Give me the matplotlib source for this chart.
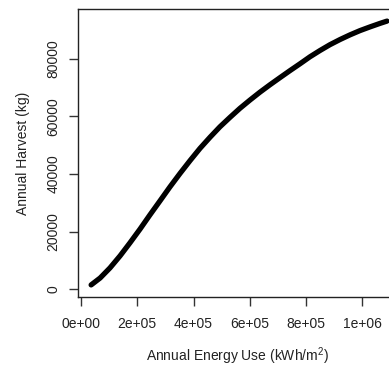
import matplotlib
matplotlib.use("Agg")
import matplotlib.pyplot as plt

# values
energy_use = [
    36000, 68000, 103000, 139000, 174000, 210000, 245000, 281000, 316000,
    352000, 388000, 423000, 459000, 494000, 530000, 565000, 601000, 636000,
    672000, 708000, 743000, 779000, 814000, 850000, 885000, 921000, 956000,
    992000, 1028000, 1063000, 1088000,
]
harvest = [
    1500, 3900, 7400, 11600, 16100, 20900, 25800, 30700, 35500,
    40200, 44700, 48900, 52800, 56400, 59700, 62800, 65700, 68400,
    71000, 73500, 75900, 78300, 80700, 82900, 84900, 86700, 88300,
    89800, 91100, 92300, 93100,
]
x_ticks = [0, 200000, 400000, 600000, 800000, 1000000]
x_tick_labels = ["0e+00", "2e+05", "4e+05", "6e+05", "8e+05", "1e+06"]
y_ticks = [0, 20000, 40000, 60000, 80000]

plt.rcParams["font.family"] = ["Liberation Sans", "DejaVu Sans"]
plt.rcParams["mathtext.fontset"] = "custom"
plt.rcParams["mathtext.rm"] = "Liberation Sans"
plt.rcParams["mathtext.it"] = "Liberation Sans"

fig = plt.figure(figsize=(3.89, 3.69), dpi=100)
# plot box runs slightly past the right edge, as in the reference
ax = fig.add_axes([78 / 389, 72 / 369, 318 / 389, 288 / 369])

ax.plot(energy_use, harvest, color="black", lw=3.8, solid_capstyle="round",
        solid_joinstyle="round")

ax.set_xlim(-10700, 1120000)
ax.set_ylim(-2700, 97300)
ax.set_xticks(x_ticks)
ax.set_xticklabels(x_tick_labels)
ax.set_yticks(y_ticks)
ax.set_yticklabels([str(v) for v in y_ticks], rotation=90, va="center")

for spine in ax.spines.values():
    spine.set_linewidth(1.0)
    spine.set_color("#222222")
ax.tick_params(axis="both", length=6.5, width=1.0, color="#333333",
               labelsize=10, labelcolor="#222222")
ax.tick_params(axis="x", pad=8)
ax.tick_params(axis="y", pad=6)

ax.set_xlabel("Annual Energy Use (kWh/m$^{2}$)", fontsize=10, labelpad=10,
              color="#222222")
ax.set_ylabel("Annual Harvest (kg)", fontsize=10, labelpad=12, color="#222222")

fig.savefig("out.png", dpi=100)
